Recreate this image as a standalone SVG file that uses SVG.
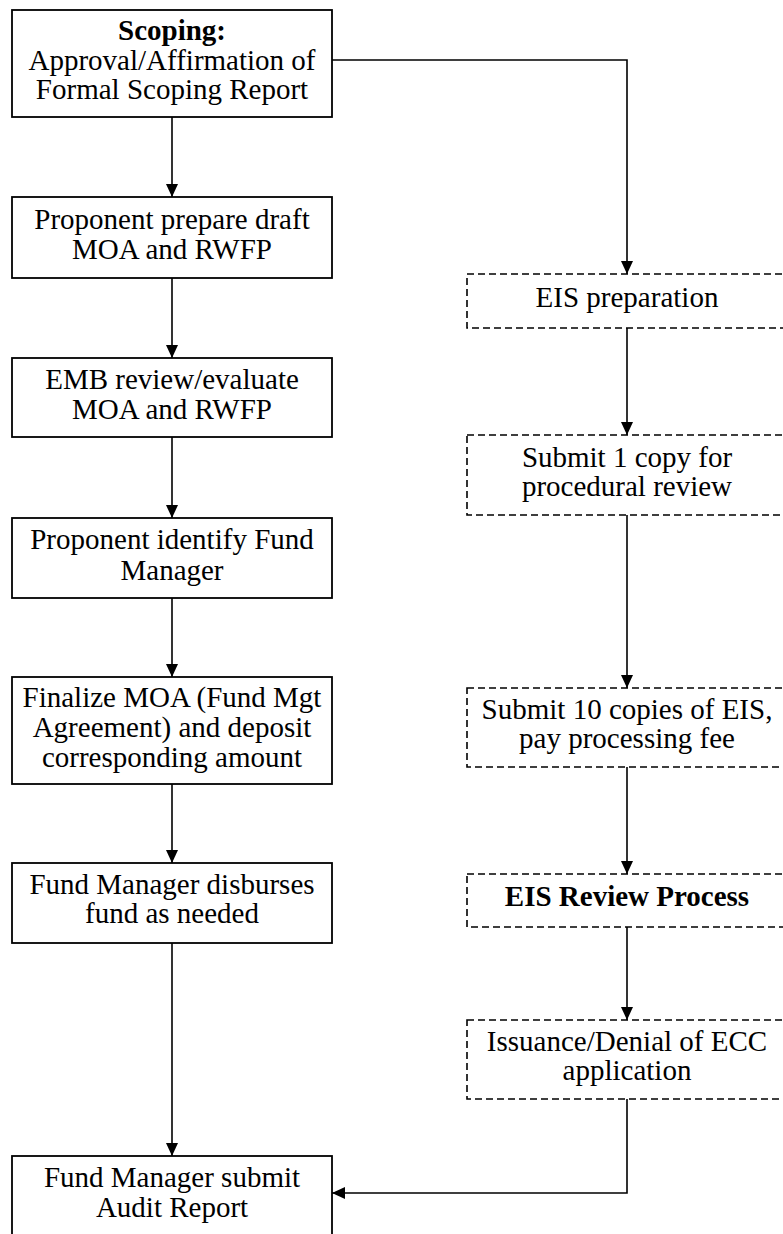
<svg xmlns="http://www.w3.org/2000/svg" width="783" height="1234" viewBox="0 0 783 1234">
  <style>
    .box { fill: #ffffff; stroke: #000000; stroke-width: 1.8; }
    .dash { fill: #ffffff; stroke: #000000; stroke-width: 1.6; stroke-dasharray: 7 4; }
    .lbl { font-family: "Liberation Serif", "Times New Roman", serif; font-size: 29px; fill: #000000; text-anchor: middle; }
    .b { font-weight: bold; }
    .wire { fill: none; stroke: #000000; stroke-width: 1.6; }
  </style>
  <defs>
    <marker id="arrow" markerUnits="userSpaceOnUse" markerWidth="14" markerHeight="12" refX="13" refY="6" orient="auto">
      <path d="M0,0 L13,6 L0,12 z" fill="#000000"/>
    </marker>
  </defs>

  <rect width="783" height="1234" fill="#ffffff"/>

  <!-- connectors -->
  <g id="connectors">
    <path class="wire" d="M332,60 H627 V274" marker-end="url(#arrow)"/>
    <path class="wire" d="M172,117 V197" marker-end="url(#arrow)"/>
    <path class="wire" d="M172,278 V358" marker-end="url(#arrow)"/>
    <path class="wire" d="M172,437 V518" marker-end="url(#arrow)"/>
    <path class="wire" d="M172,598 V677" marker-end="url(#arrow)"/>
    <path class="wire" d="M172,784 V863" marker-end="url(#arrow)"/>
    <path class="wire" d="M172,943 V1156" marker-end="url(#arrow)"/>
    <path class="wire" d="M627,328 V435" marker-end="url(#arrow)"/>
    <path class="wire" d="M627,515 V688" marker-end="url(#arrow)"/>
    <path class="wire" d="M627,767 V874" marker-end="url(#arrow)"/>
    <path class="wire" d="M627,927 V1020" marker-end="url(#arrow)"/>
    <path class="wire" d="M627,1099 V1193 H332" marker-end="url(#arrow)"/>
  </g>

  <!-- left column -->
  <g id="scoping">
    <rect class="box" x="12" y="10" width="320" height="107"/>
    <text class="lbl b" x="172" y="40">Scoping:</text>
    <text class="lbl" x="172" y="70">Approval/Affirmation of</text>
    <text class="lbl" x="172" y="99">Formal Scoping Report</text>
  </g>
  <g id="draft-moa">
    <rect class="box" x="12" y="197" width="320" height="81"/>
    <text class="lbl" x="172" y="229">Proponent prepare draft</text>
    <text class="lbl" x="172" y="259">MOA and RWFP</text>
  </g>
  <g id="emb-review">
    <rect class="box" x="12" y="358" width="320" height="79"/>
    <text class="lbl" x="172" y="389">EMB review/evaluate</text>
    <text class="lbl" x="172" y="419">MOA and RWFP</text>
  </g>
  <g id="identify-manager">
    <rect class="box" x="12" y="518" width="320" height="80"/>
    <text class="lbl" x="172" y="549">Proponent identify Fund</text>
    <text class="lbl" x="172" y="580">Manager</text>
  </g>
  <g id="finalize-moa">
    <rect class="box" x="12" y="677" width="320" height="107"/>
    <text class="lbl" x="172" y="707">Finalize MOA (Fund Mgt</text>
    <text class="lbl" x="172" y="737">Agreement) and deposit</text>
    <text class="lbl" x="172" y="767">corresponding amount</text>
  </g>
  <g id="disburse">
    <rect class="box" x="12" y="863" width="320" height="80"/>
    <text class="lbl" x="172" y="894">Fund Manager disburses</text>
    <text class="lbl" x="172" y="923">fund as needed</text>
  </g>
  <g id="audit-report">
    <rect class="box" x="12" y="1156" width="320" height="90"/>
    <text class="lbl" x="172" y="1187">Fund Manager submit</text>
    <text class="lbl" x="172" y="1217">Audit Report</text>
  </g>

  <!-- right column (dashed) -->
  <g id="eis-preparation">
    <rect class="dash" x="467" y="274" width="320" height="54"/>
    <text class="lbl" x="627" y="307">EIS preparation</text>
  </g>
  <g id="procedural-review">
    <rect class="dash" x="467" y="435" width="320" height="80"/>
    <text class="lbl" x="627" y="467">Submit 1 copy for</text>
    <text class="lbl" x="627" y="496">procedural review</text>
  </g>
  <g id="submit-copies">
    <rect class="dash" x="467" y="688" width="320" height="79"/>
    <text class="lbl" x="627" y="719">Submit 10 copies of EIS,</text>
    <text class="lbl" x="627" y="748">pay processing fee</text>
  </g>
  <g id="eis-review">
    <rect class="dash" x="467" y="874" width="320" height="53"/>
    <text class="lbl b" x="627" y="906">EIS Review Process</text>
  </g>
  <g id="ecc-decision">
    <rect class="dash" x="467" y="1020" width="320" height="79"/>
    <text class="lbl" x="627" y="1051">Issuance/Denial of ECC</text>
    <text class="lbl" x="627" y="1080">application</text>
  </g>
</svg>
